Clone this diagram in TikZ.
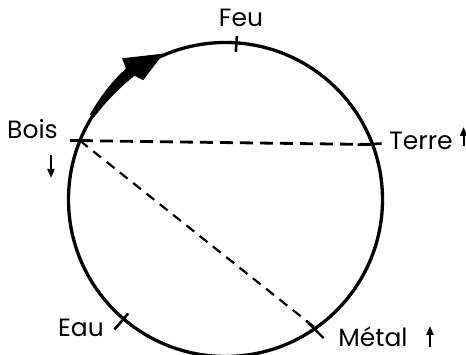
\documentclass[tikz,border=0pt]{standalone}
\usepackage{fontspec}
\setmainfont{Poppins}
\usetikzlibrary{arrows.meta}
\tikzset{
  ring/.style={line width=3.3pt},
  tickmark/.style={line width=2.6pt},
  dashh/.style={line width=2.8pt, dash pattern=on 13pt off 7pt},
  dashd/.style={line width=2.2pt, dash pattern=on 10pt off 7pt},
  lab/.style={inner sep=0pt, anchor=base, font=\fontsize{25}{28}\selectfont},
  smallarrow/.style={line width=2pt, -{Triangle[length=9pt,width=7pt]}},
}
\begin{document}
\begin{tikzpicture}[x=1pt,y=1pt]
\useasboundingbox (0,0) rectangle (466,355);
\fill[white] (0,0) rectangle (466,355);
\begin{scope}[shift={(225.5,155.5)}]
  \def\R{157}
  \draw[ring] (0,0) circle (\R);
  % points on the circle
  \coordinate (feu) at (86:\R);
  \coordinate (bois) at (158:\R);
  \coordinate (terre) at (20.5:\R);
  \coordinate (eau) at (229.5:\R);
  \coordinate (metal) at (-55:\R);
  % ticks
  \draw[tickmark] (86:{\R-9}) -- (86:{\R+7});
  \draw[tickmark] (229.5:{\R-7}) -- (229.5:{\R+14});
  \draw[tickmark] ([xshift=-10pt]bois) -- ([xshift=10pt]bois);
  \draw[tickmark] ([xshift=-15pt,yshift=-0.3pt]terre) -- ([xshift=9pt,yshift=1pt]terre);
  % dashed connectors
  \draw[dashh] (bois) -- (terre);
  \draw[dashd] (bois) -- (metal);
  \draw[tickmark, line width=2.3pt] ([shift={(-9pt,7.2pt)}]metal) -- ([shift={(8pt,-10pt)}]metal);
  % big arrow along the circle
  \fill (148:{\R-2}) -- (148:{\R+3})
     .. controls (140:{\R+5.5}) and (133:{\R+7}) .. (127.2:{\R+7.5})
     -- (126.2:{\R+18}) -- (113:{\R+1.5}) -- (124.6:{\R-12})
     -- (126.3:{\R-3.5})
     .. controls (133:{\R-3}) and (140:{\R-2.5}) .. cycle;
\end{scope}
% labels
\node[lab] (lfeu) at (241,328) {Feu};
\node[lab] (lbois) at (32.5,216) {Bois};
\node[lab] (lterre) at (421,205) {Terre};
\node[lab] (leau) at (81,18) {Eau};
\node[lab] (lmetal) at (373,8) {Métal};
% small arrows
\coordinate (ba1) at (51,200);
\coordinate (ba2) at (51,177);
\draw[smallarrow] (ba1) -- (ba2);
\coordinate (ta1) at (463.5,209);
\coordinate (ta2) at (463.5,228);
\draw[smallarrow] (ta1) -- (ta2);
\coordinate (ma1) at (430,8);
\coordinate (ma2) at (430,29);
\draw[smallarrow] (ma1) -- (ma2);
\end{tikzpicture}
\end{document}
